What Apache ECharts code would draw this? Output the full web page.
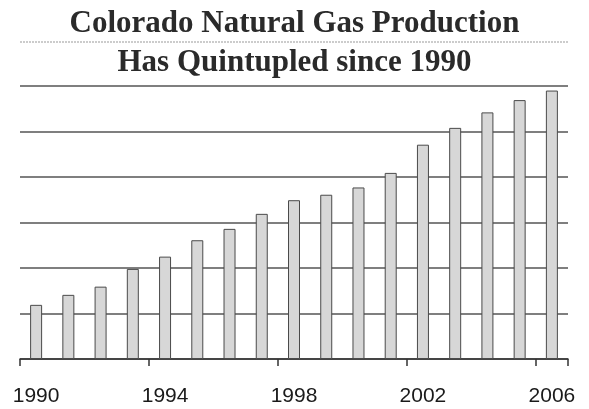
<!DOCTYPE html>
<html>
<head>
<meta charset="utf-8">
<script src="https://cdn.jsdelivr.net/npm/echarts@6/dist/echarts.min.js"></script>
<style>
  html, body { margin: 0; padding: 0; background: #fff; }
  #chart { width: 589px; height: 409px; }
</style>
</head>
<body>
<div id="chart"></div>
<script>
  // years on the x axis
  var years = ['1990', '1991', '1992', '1993', '1994', '1995', '1996', '1997', '1998',
               '1999', '2000', '2001', '2002', '2003', '2004', '2005', '2006'];
  // production (Bcf, estimated)
  var production = [238, 282, 318, 396, 450, 522, 572, 638, 698,
                    722, 754, 818, 942, 1016, 1084, 1138, 1180];
  var titleLines = ['Colorado Natural Gas Production', 'Has Quintupled since 1990'];

  var chart = echarts.init(document.getElementById('chart'));

  var titleFont = {
    fontFamily: '"Liberation Serif", "DejaVu Serif", serif',
    fontWeight: 'bold',
    fontSize: 31,
    lineHeight: 31,
    color: '#2a2a2a'
  };

  chart.setOption({
    animation: false,
    backgroundColor: '#fff',
    title: [
      { text: titleLines[0], left: 'center', top: 8, padding: 0, textStyle: titleFont },
      { text: titleLines[1], left: 'center', top: 47, padding: 0, textStyle: titleFont }
    ],
    graphic: [
      {
        type: 'line',
        shape: { x1: 20, y1: 42, x2: 568, y2: 42 },
        style: { stroke: '#999', lineWidth: 1, lineDash: [2, 1] }
      }
    ],
    grid: { left: 20, right: 21, top: 86, bottom: 50 },
    xAxis: {
      type: 'category',
      data: years,
      axisLine: { lineStyle: { color: '#333', width: 1.5 } },
      axisTick: {
        show: true,
        // a tick every four years, none at the far end
        interval: function (index) { return index % 4 === 0 && index < years.length; },
        length: 7,
        lineStyle: { color: '#333', width: 1.5 }
      },
      axisLabel: {
        interval: 3,
        margin: 27,
        fontFamily: '"Liberation Sans", Arial, sans-serif',
        fontSize: 21,
        color: '#1a1a1a'
      }
    },
    yAxis: {
      type: 'value',
      min: 0,
      max: 1200,
      interval: 200,
      axisLine: { show: false },
      axisTick: { show: false },
      axisLabel: { show: false },
      splitLine: { lineStyle: { color: '#555', width: 1.5 } }
    },
    series: [
      {
        type: 'bar',
        data: production,
        barWidth: 12,
        itemStyle: {
          color: '#d7d7d7',
          borderColor: '#4a4a4a',
          borderWidth: 1
        }
      }
    ]
  });
</script>
</body>
</html>
